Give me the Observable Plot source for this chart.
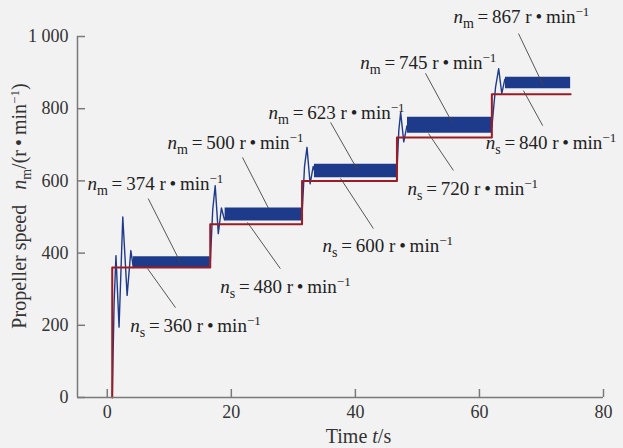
<!DOCTYPE html>
<html><head><meta charset="utf-8">
<script src="https://cdn.jsdelivr.net/npm/d3@7"></script>
<script src="https://cdn.jsdelivr.net/npm/@observablehq/plot@0.6"></script>
<style>
html,body{margin:0;padding:0;background:#f2f2f2;}
</style></head><body><div id="chart"></div>
<script>
// ---- data ----
const stepTimes = [0.8, 16.6, 31.4, 46.7, 62.0];   // s
const endTime = 74.7;                               // s
const setpoints = [360, 480, 600, 720, 840];        // n_s, r/min
const measuredMeans = [374, 500, 623, 745, 867];    // n_m, r/min
const xTicks = [0, 20, 40, 60, 80];
const yTicks = [0, 200, 400, 600, 800, 1000];
const yTickLabels = ["0", "200", "400", "600", "800", "1 000"];

// transient parts of the measured speed, [t, rpm]
const transient1 = [[0.8,0],[1.1,260],[1.4,393],[1.9,195],[2.5,500],[3.2,283],[3.8,407],[4.2,360],[4.4,380]];
const transient2 = [[16.6,372],[17.0,520],[17.4,587],[17.9,454],[18.4,525],[18.9,492],[19.2,505]];
const transient3 = [[31.4,505],[31.8,640],[32.2,693],[32.7,592],[33.2,640],[33.6,618]];
const transient4 = [[46.7,625],[47.0,740],[47.3,790],[47.8,708],[48.3,752],[48.6,742]];
const transient5 = [[62.0,748],[62.6,860],[63.1,911],[63.6,842],[64.1,882],[64.4,866]];

// steady-state noise envelopes of the measured speed
const bandStart = [4.2, 19.0, 33.4, 48.4, 64.2];
const bandEnd   = [16.6, 31.4, 46.7, 62.0, 74.7];
const bandLow   = [357, 489, 609, 732, 855];
const bandHigh  = [390, 525, 646, 776, 887];

// annotation layout in data units (t, rpm)
const nmLabelT = [-3.2, 9.7, 26.0, 40.8, 55.8];
const nmLabelV = [593, 704, 789, 928, 1053];
const nmLeadT1 = [6.6, 21.8, 36.0, 51.3, 66.3];
const nmLeadV1 = [551, 665, 762, 898, 1008];
const nmLeadT2 = [11.8, 26.0, 40.3, 55.6, 70.3];
const nmLeadV2 = [374, 524, 632, 762, 864];

const nsLabelT = [3.7, 18.2, 34.7, 48.4, 61.0];
const nsLabelV = [199, 305, 421, 579, 706];
const nsLeadT1 = [6.5, 22.6, 37.6, 51.8, 67.1];
const nsLeadV1 = [357, 485, 607, 731, 850];
const nsLeadT2 = [11.0, 27.9, 42.9, 55.8, 70.2];
const nsLeadV2 = [249, 357, 468, 629, 753];

// ---- tables built from the arrays ----
const setRows = [{t: stepTimes[0], v: 0}];
stepTimes.forEach((t, i) => setRows.push({t, v: setpoints[i]}));
setRows.push({t: endTime, v: setpoints[setpoints.length - 1]});

const transRows = [];
[transient1, transient2, transient3, transient4, transient5].forEach((arr, k) =>
  arr.forEach(([t, v]) => transRows.push({k, t, v})));

const bandRows = [];
bandStart.forEach((s, i) => {
  bandRows.push({k: i, t: s, lo: bandLow[i], hi: bandHigh[i]});
  bandRows.push({k: i, t: bandEnd[i], lo: bandLow[i], hi: bandHigh[i]});
});

const nmRows = measuredMeans.map((v, i) => ({val: v, sub: "m", t: nmLabelT[i], y: nmLabelV[i],
  x1: nmLeadT1[i], y1: nmLeadV1[i], x2: nmLeadT2[i], y2: nmLeadV2[i]}));
const nsRows = setpoints.map((v, i) => ({val: v, sub: "s", t: nsLabelT[i], y: nsLabelV[i],
  x1: nsLeadT1[i], y1: nsLeadV1[i], x2: nsLeadT2[i], y2: nsLeadV2[i]}));
const annRows = nmRows.concat(nsRows);

const blue = "#1e3a8a";
const red = "#9b1c24";
const axisGray = "#7a7a7a";
const FS = 18;
const AFS = 19;
const LFS = 20;

const chart = Plot.plot({
  width: 623, height: 448,
  marginLeft: 77, marginRight: 20, marginTop: 36, marginBottom: 51,
  style: {background: "#f2f2f2", fontFamily: "Liberation Serif", fontSize: FS + "px", color: "#333"},
  x: {domain: [-4.8, 80], label: null},
  y: {domain: [0, 1000], label: null},
  marks: [
    Plot.areaY(bandRows, {x: "t", y1: "lo", y2: "hi", z: "k", fill: blue}),
    Plot.line(transRows, {x: "t", y: "v", z: "k", stroke: blue, strokeWidth: 1.4}),
    Plot.line(setRows, {x: "t", y: "v", stroke: red, strokeWidth: 2, curve: "step-after"}),
    Plot.link(annRows, {x1: "x1", y1: "y1", x2: "x2", y2: "y2", stroke: "#444", strokeWidth: 0.9}),
    Plot.text(annRows, {x: "t", y: "y", text: d => `n${d.sub}=${d.val} r•min-1`, textAnchor: "start",
      fontSize: AFS, fill: "#222"}),
    Plot.ruleX([-4.8], {stroke: axisGray, strokeWidth: 1.5}),
    Plot.ruleY([0], {stroke: axisGray, strokeWidth: 1.5}),
    Plot.axisY(yTicks, {tickSize: -8, tickPadding: 17, stroke: axisGray, strokeWidth: 1.5,
      tickFormat: d => yTickLabels[yTicks.indexOf(d)], fontSize: FS, fill: "#333", label: null}),
    Plot.axisX(xTicks, {tickSize: -8, tickPadding: 16, stroke: axisGray, strokeWidth: 1.5,
      fontSize: FS, fill: "#333", label: null}),
    Plot.text(["Propeller speed n_m/(r•min-1)"], {frameAnchor: "left", textAnchor: "middle",
      dx: -58, dy: -11, rotate: -90, fontSize: LFS, fill: "#333"}),
    Plot.text(["Time t/s"], {frameAnchor: "bottom", textAnchor: "middle", dx: 18, dy: 45,
      fontSize: LFS, fill: "#333"})
  ]
});
document.getElementById("chart").appendChild(chart);

// ---- rich text (italic symbols, sub/superscripts) ----
function fill(el, parts) {
  const t = d3.select(el);
  t.text(null);
  parts.forEach(p => {
    const s = t.append("tspan").text(p.t);
    if (p.it) s.attr("font-style", "italic");
    if (p.size) s.attr("font-size", p.size);
    if (p.dy) s.attr("dy", p.dy);
  });
}
const textGroups = d3.select(chart).selectAll('g[aria-label="text"]').nodes();
d3.select(textGroups[0]).selectAll("text").each(function(_, i) {
  const d = annRows[i];
  fill(this, [
    {t: "n", it: true},
    {t: d.sub, size: 14, dy: 5},
    {t: "\u2009=\u2009" + d.val + " r\u2009\u2022\u2009min", dy: -5},
    {t: "\u22121", size: 13, dy: -7}
  ]);
});
d3.select(textGroups[1]).selectAll("text").each(function() {
  fill(this, [
    {t: "Propeller speed\u2002 "},
    {t: "n", it: true},
    {t: "m", size: 14, dy: 5},
    {t: "/(r\u2009\u2022\u2009min", dy: -5},
    {t: "\u22121", size: 13, dy: -7},
    {t: ")", dy: 7}
  ]);
});
d3.select(textGroups[2]).selectAll("text").each(function() {
  fill(this, [{t: "Time "}, {t: "t", it: true}, {t: "/s"}]);
});
</script></body></html>
